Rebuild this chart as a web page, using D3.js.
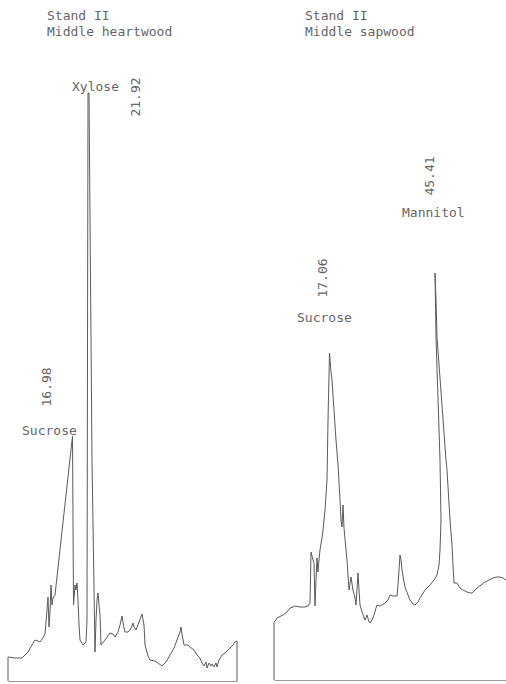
<!DOCTYPE html>
<html>
<head>
<meta charset="utf-8">
<script src="https://cdn.jsdelivr.net/npm/d3@7"></script>
<style>
  body { margin: 0; background: #fff; }
  text { font-family: "DejaVu Sans Mono", monospace; font-size: 13px; fill: #666; }
  .trace { fill: none; stroke: #5a5a5a; stroke-width: 1; stroke-linejoin: round; }
  .axis path { stroke: #999; stroke-width: 1; }
</style>
</head>
<body>
<svg id="svg" width="506" height="684"></svg>
<script>
// chart units: time (arbitrary run units), response (arbitrary units)
const heartTime = [0,0,0.7,1.4,1.7,2.0,2.4,2.7,3.0,3.2,3.5,3.7,3.8,3.9,4.0,4.1,4.2,4.3,4.4,4.5,4.7,
  6.45,6.55,6.7,6.8,6.9,7.0,7.1,7.2,7.5,7.8,7.9,8.0,8.1,8.4,8.7,8.8,8.9,9.0,9.1,9.2,9.3,9.7,
  10.2,10.5,10.7,11.0,11.2,11.4,11.6,11.7,12.0,12.2,12.4,12.5,12.6,12.8,13.1,13.4,13.6,13.7,
  14.0,14.2,14.7,15.0,15.4,15.8,16.2,16.6,16.9,17.2,17.3,17.4,17.6,18.0,18.2,18.6,18.9,19.2,
  19.4,19.6,19.8,19.9,20.1,20.3,20.4,20.6,20.8,20.9,21.1,21.4,21.7,22.0,22.2,22.5,22.7,22.9,22.9];
const heartResp = [0,2.4,2.3,2.3,2.6,2.9,3.6,4.1,4.0,3.9,4.3,4.7,5.9,7.1,8.4,5.4,6.9,9.6,7.6,8.3,8.6,
  24.5,7.6,9.6,9.1,9.8,8.1,5.6,4.1,3.6,3.9,6.1,58.8,58.8,22.1,2.9,6.1,8.1,8.8,7.6,6.6,3.6,4.1,
  4.8,4.7,4.4,4.9,5.6,6.5,5.3,4.9,4.9,5.1,5.5,5.8,5.4,5.1,5.9,6.7,5.6,3.6,
  2.5,2.1,2.0,1.8,1.5,1.9,2.6,3.3,4.1,4.9,5.4,4.7,3.6,3.6,3.4,3.1,2.6,2.3,
  1.8,1.5,1.9,1.3,1.8,1.5,1.7,1.4,1.8,1.4,2.1,2.6,2.8,3.1,3.3,3.6,3.9,4.0,0];

const sapTime = [0,0,0.2,0.3,0.5,0.9,1.3,1.6,1.9,2.1,2.6,3.1,3.4,3.6,3.7,3.8,3.9,4.0,4.1,4.2,4.3,
  4.4,4.5,4.6,4.8,4.9,5.1,5.3,5.4,5.55,5.7,5.8,6.0,6.2,6.4,6.6,6.7,6.8,6.9,7.0,7.2,7.3,7.5,7.7,
  7.9,8.1,8.2,8.4,8.5,8.6,8.8,9.1,9.3,9.5,9.6,9.8,10.0,10.2,10.3,10.6,11.1,11.4,11.6,11.9,12.3,
  12.4,12.6,12.7,12.8,13.0,13.1,13.4,13.6,13.9,14.1,14.4,14.6,15.1,15.6,16.0,16.3,16.5,16.6,
  16.7,16.6,16.2,16.1,16.2,16.3,17.2,17.3,17.6,17.8,17.9,18.0,18.3,18.6,18.9,19.3,19.6,19.8,
  20.1,20.3,20.7,21.1,21.5,21.9,22.3,22.6,22.9,23.2];
const sapResp = [0,5.8,6.0,6.2,6.3,6.5,6.8,7.2,7.3,7.4,7.3,7.3,7.4,7.7,12.8,12.4,12.0,11.7,7.4,10.0,12.2,
  10.8,12.0,13.0,14.2,15.0,17.0,20.0,26.0,32.7,30.8,30.0,27.0,24.0,21.5,18.0,16.0,15.3,17.5,15.2,13.0,12.0,9.0,10.3,
  9.0,8.2,7.5,10.7,9.0,7.5,6.8,6.0,6.5,5.8,5.7,6.0,6.5,7.2,7.5,7.4,7.7,8.0,8.5,8.4,8.4,
  9.5,12.5,12.0,11.0,9.8,9.3,8.5,8.0,7.6,7.5,7.8,8.2,9.0,9.5,10.0,10.5,11.5,13.0,
  16.0,22.0,34.3,40.7,38.0,34.3,22.0,21.0,16.0,13.5,11.5,9.7,9.7,9.2,9.0,8.8,8.7,8.7,
  9.0,9.2,9.5,9.8,10.0,10.2,10.3,10.3,10.2,10.0];

const titles = [["Stand II", "Middle heartwood"], ["Stand II", "Middle sapwood"]];
// peak labels, with name and number anchors in chart units
const peakNames = ["Sucrose", "Xylose", "Sucrose", "Mannitol"];
const peakValues = ["16.98", "21.92", "17.06", "45.41"];
const peakPanel = [0, 0, 1, 1];
const nameAt = [[1.4, 24.6], [6.4, 59.0], [2.3, 35.8], [12.8, 46.3]];
const numAt = [[4.3, 29.4], [13.2, 58.4], [5.3, 40.2], [16.0, 50.4]];

const svg = d3.select("#svg");

const panels = [
  { left: 8, base: 681, maxT: 22.9, time: heartTime, resp: heartResp, titleX: 47 },
  { left: 274, base: 680, maxT: 23.2, time: sapTime, resp: sapResp, titleX: 305 }
];

panels.forEach((p, i) => {
  const x = d3.scaleLinear().domain([0, p.maxT]).range([p.left, p.left + p.maxT * 10]);
  const y = d3.scaleLinear().domain([0, 60]).range([p.base, p.base - 600]);
  p.x = x; p.y = y;

  svg.append("g").attr("class", "axis")
    .attr("transform", `translate(0,${p.base})`)
    .call(d3.axisBottom(x).tickValues([]).tickSizeOuter(0));

  const pts = p.time.map((t, j) => [t, p.resp[j]]);
  svg.append("path").attr("class", "trace")
    .attr("d", d3.line().x(d => x(d[0])).y(d => y(d[1]))(pts));

  svg.append("text").attr("x", p.titleX).attr("y", 20).text(titles[i][0]);
  svg.append("text").attr("x", p.titleX).attr("y", 36).text(titles[i][1]);
});

peakNames.forEach((name, k) => {
  const p = panels[peakPanel[k]];
  svg.append("text")
    .attr("x", p.x(nameAt[k][0])).attr("y", p.y(nameAt[k][1]))
    .text(name);
  const nx = p.x(numAt[k][0]), ny = p.y(numAt[k][1]);
  svg.append("text")
    .attr("transform", `translate(${nx},${ny}) rotate(-90)`)
    .attr("text-anchor", "middle")
    .text(peakValues[k]);
});
</script>
</body>
</html>
